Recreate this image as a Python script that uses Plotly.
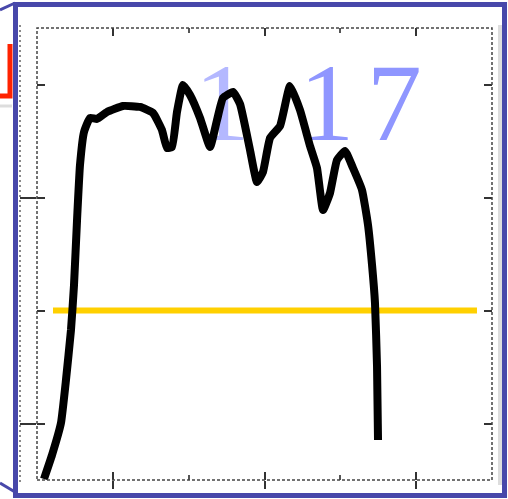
import plotly.graph_objects as go

W, H = 508, 499

# black curve (data units: x 0..6, y 0..4)
curve_x = [0.092, 0.198, 0.316, 0.382, 0.448, 0.488, 0.528, 0.567, 0.620, 0.699,
           0.791, 0.923, 1.134, 1.358, 1.530, 1.648, 1.714, 1.780, 1.846, 1.925,
           2.018, 2.150, 2.282, 2.374, 2.453, 2.585, 2.677, 2.809, 2.901, 2.980,
           3.073, 3.205, 3.336, 3.468, 3.600, 3.692, 3.772, 3.864, 3.956, 4.062,
           4.167, 4.286, 4.365, 4.418, 4.457, 4.484, 4.497]
curve_y = [0.009, 0.221, 0.504, 0.885, 1.327, 1.726, 2.301, 2.788, 3.080, 3.204,
           3.195, 3.257, 3.310, 3.301, 3.248, 3.097, 2.938, 2.947, 3.257, 3.496,
           3.407, 3.204, 2.947, 3.186, 3.381, 3.434, 3.327, 2.920, 2.637, 2.726,
           3.027, 3.133, 3.487, 3.274, 2.956, 2.761, 2.389, 2.540, 2.832, 2.912,
           2.761, 2.566, 2.257, 1.903, 1.566, 1.000, 0.354]

# yellow reference line
ref_x = [0.211, 5.802]
ref_y = [1.5, 1.5]

# label characters
label_chars = ["1", "1", "7"]
label_x = [2.44, 3.82, 4.71]
label_y = [3.25, 3.25, 3.25]
label_colors = ["#b4b8ff", "#8f96ff", "#8f96ff"]

x_major = [1, 3, 5]
x_minor = [2, 4]
y_major = [0.5, 2.5]
y_minor = [1.5, 3.5]


def px(x):
    return x / W


def py(y):
    return 1 - y / H


fig = go.Figure()

fig.add_trace(go.Scatter(
    x=label_x, y=label_y, mode="text", text=label_chars,
    textposition="middle center",
    textfont=dict(family="Liberation Serif", size=110, color=label_colors),
    cliponaxis=False, hoverinfo="skip", showlegend=False))

fig.add_trace(go.Scatter(
    x=ref_x, y=ref_y, mode="lines",
    line=dict(color="#FFD000", width=6), showlegend=False))

fig.add_trace(go.Scatter(
    x=curve_x, y=curve_y, mode="lines",
    line=dict(color="black", width=8, shape="spline", smoothing=0.4),
    showlegend=False))

# invisible trace for overlay axes (outer tick parts)
fig.add_trace(go.Scatter(x=[0], y=[0], xaxis="x2", yaxis="y2", mode="markers",
                         marker=dict(opacity=0), showlegend=False, hoverinfo="skip"))

dom_x = [px(37), px(492)]
dom_y = [py(480), py(28)]

fig.update_layout(
    width=W, height=H,
    margin=dict(l=0, r=0, t=0, b=0),
    paper_bgcolor="white", plot_bgcolor="white",
    xaxis=dict(domain=dom_x, range=[0, 6], showgrid=False, zeroline=False,
               showticklabels=False, ticks="inside", ticklen=8, tickwidth=1.5,
               tickcolor="#333", tickvals=x_major, mirror="ticks", showline=False,
               minor=dict(ticks="inside", ticklen=5, tickvals=x_minor, tickcolor="#555")),
    yaxis=dict(domain=dom_y, range=[0, 4], showgrid=False, zeroline=False,
               showticklabels=False, ticks="inside", ticklen=8, tickwidth=1.5,
               tickcolor="#333", tickvals=y_major + y_minor, mirror="ticks", showline=False),
    xaxis2=dict(domain=dom_x, range=[0, 6], overlaying="x", anchor="y2",
                showgrid=False, zeroline=False, showticklabels=False,
                ticks="outside", ticklen=8, tickwidth=1.5, tickcolor="#333",
                tickvals=x_major),
    yaxis2=dict(domain=dom_y, range=[0, 4], overlaying="y", anchor="x2",
                showgrid=False, zeroline=False, showticklabels=False,
                ticks="outside", ticklen=16, tickwidth=1.5, tickcolor="#333",
                tickvals=y_major),
)

shapes = []
# dashed axes frame
shapes.append(dict(type="rect", xref="paper", yref="paper",
                   x0=px(37), x1=px(492), y0=py(480), y1=py(28),
                   line=dict(color="#444", width=1.5, dash="3px,2px"), layer="above"))
# extra dotted line at left
shapes.append(dict(type="line", xref="paper", yref="paper",
                   x0=px(20), x1=px(20), y0=py(482), y1=py(25),
                   line=dict(color="#666", width=1.5, dash="2px,3px")))
# grey band at right
shapes.append(dict(type="line", xref="paper", yref="paper",
                   x0=px(500), x1=px(500), y0=py(485), y1=py(25),
                   line=dict(color="#dddddd", width=4)))
# blue frame
shapes.append(dict(type="rect", xref="paper", yref="paper",
                   x0=px(15.5), x1=px(504.5), y0=py(495.5), y1=py(4.5),
                   line=dict(color="#4848AA", width=5), layer="above"))
# blue corner lines
shapes.append(dict(type="line", xref="paper", yref="paper",
                   x0=px(0), y0=py(10), x1=px(15), y1=py(3),
                   line=dict(color="#4848AA", width=3)))
shapes.append(dict(type="line", xref="paper", yref="paper",
                   x0=px(0), y0=py(483), x1=px(15), y1=py(492),
                   line=dict(color="#4848AA", width=3)))
# red mark
shapes.append(dict(type="line", xref="paper", yref="paper",
                   x0=px(0), y0=py(106), x1=px(12), y1=py(106),
                   line=dict(color="#dddddd", width=3)))
shapes.append(dict(type="path", xref="paper", yref="paper",
                   path=f"M {px(0)},{py(96)} L {px(10)},{py(96)} L {px(10)},{py(44)}",
                   line=dict(color="#ff2200", width=5)))
fig.update_layout(shapes=shapes)

fig.write_html(
    "out.html",
    config={"displayModeBar": False},
    post_script="document.body.style.margin='0';document.body.style.overflow='hidden';",
)
